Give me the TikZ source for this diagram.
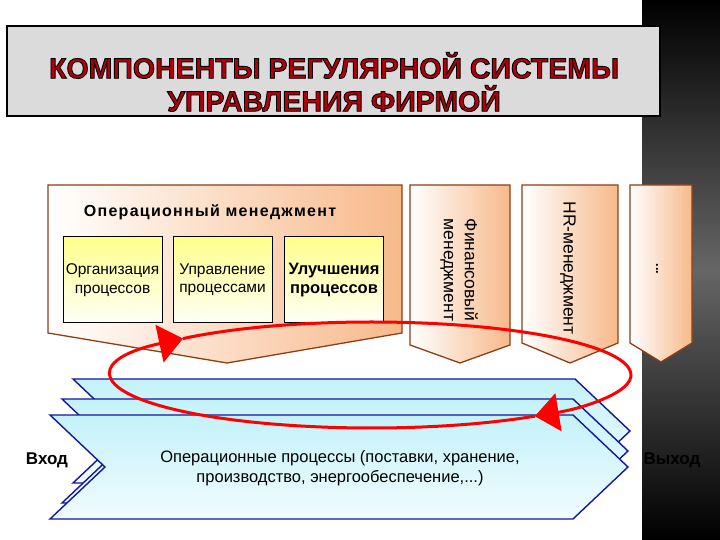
\documentclass[tikz,border=0pt]{standalone}
\usepackage{fontspec}
\setmainfont{Liberation Sans}
\usetikzlibrary{arrows.meta}
\definecolor{orng}{RGB}{247,185,138}
\definecolor{brwn}{RGB}{140,62,22}
\definecolor{ttlred}{RGB}{175,0,12}
\definecolor{pblue}{RGB}{18,22,160}
\definecolor{pcyan}{RGB}{196,242,250}
\definecolor{yfill}{RGB}{255,255,140}
\newcommand\ttlstroke[1]{\special{pdf:literal direct 2 Tr 0.9 w 0 0 0 RG}#1\special{pdf:literal direct 0 Tr}}
\begin{document}
\begin{tikzpicture}[x=1pt, y=1pt,
	mgmt/.style={draw=brwn, line width=1.3pt, left color=white, right color=orng},
	subbox/.style={draw=black, line width=1pt, top color=yfill, bottom color=yellow!3,
		minimum width=99pt, minimum height=86pt, inner sep=1pt, align=center, font=\fontsize{15.5}{18.5}\selectfont},
	proc/.style={draw=pblue, line width=1.4pt, top color=pcyan, bottom color=pcyan!25},
	redloop/.style={red, line width=3pt, -{Triangle[length=24pt, width=38pt]}},
	vlabel/.style={rotate=-90, align=center, font=\fontsize{17.5}{21}\selectfont}
]
	\useasboundingbox (0,0) rectangle (720,540);
	\fill[white] (0,0) rectangle (720,540);
	\shade[top color=black, bottom color=black, middle color=black!60] (642,0) rectangle (720,540);

	% title
	\draw[fill=black!14, line width=1.2pt] (7,514) rectangle (660,424);
	\node[ttlred, font=\bfseries\fontsize{28.5}{33}\selectfont, align=center] (title) at (334,458)
		{\ttlstroke{КОМПОНЕНТЫ РЕГУЛЯРНОЙ СИСТЕМЫ}\\\ttlstroke{УПРАВЛЕНИЯ ФИРМОЙ}};

	% operational management
	\coordinate (O) at (48,355);
	\draw[mgmt] (O) -- (402,355) -- (402,207) -- (227,177) -- (48,207) -- cycle;
	\node[font=\bfseries\fontsize{16}{19}\selectfont\addfontfeature{LetterSpace=8}] (opsHead) at (210,328) {Операционный менеджмент};
	\node[subbox] (org) at (112.5,260) {Организация\\процессов};
	\node[subbox] (ctl) at (222.5,260) {Управление\\процессами};
	\node[subbox, font=\bfseries\fontsize{16.5}{19.5}\selectfont] (imp) at (334,260) {Улучшения\\процессов};

	% other functions
	\draw[mgmt] (410,355) -- (510,355) -- (510,195) -- (460,177) -- (410,195) -- cycle;
	\draw[mgmt] (522,355) -- (618,355) -- (618,197) -- (570,177) -- (522,197) -- cycle;
	\draw[mgmt] (630,355) -- (692,355) -- (692,197) -- (661,178) -- (630,197) -- cycle;
	\node[vlabel] (fin) at (459,270) {Финансовый\\менеджмент};
	\node[vlabel] (hr) at (568,272) {HR-менеджмент};
	\node[vlabel, font=\bfseries\fontsize{13}{16}\selectfont] (more) at (657,271) {...};

	% process flow
	\foreach \l/\t/\r in {73/161/575, 62/141/573, 50/125/573}
		\draw[proc] (\l,\t) -- (\r,\t) -- (\r+55,\t-52) -- (\r,\t-104) -- (\l,\t-104) -- (\l+55,\t-52) -- cycle;
	\node[align=center, font=\fontsize{16.5}{20}\selectfont] (ops) at (340,72)
		{Операционные процессы (поставки, хранение,\\производство, энергообеспечение,...)};
	\node[font=\bfseries\fontsize{17}{20}\selectfont] (in) at (47,80) {Вход};
	\node[font=\bfseries\fontsize{17}{20}\selectfont] (out) at (672,80) {Выход};

	% improvement cycle
	\coordinate (C) at (371.5,165);
	\draw[redloop] ([shift={(309:259.5 and 53)}]C) arc[start angle=309, end angle=136.6, x radius=259.5, y radius=53];
	\draw[redloop] ([shift={(136.6:259.5 and 53)}]C) arc[start angle=136.6, end angle=-51, x radius=259.5, y radius=53];
\end{tikzpicture}
\end{document}
